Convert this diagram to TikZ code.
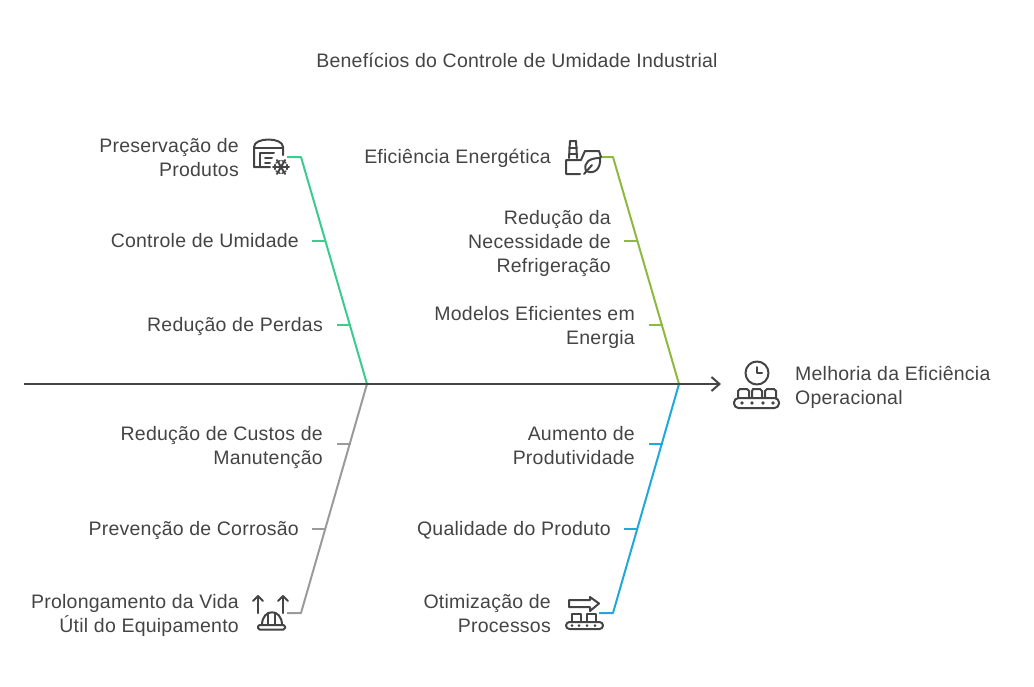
\documentclass[tikz,border=0pt]{standalone}
\usepackage{fontspec}
\setmainfont{Liberation Sans}[LetterSpace=1.2]
\usepackage{tikz}
\usetikzlibrary{arrows.meta}
\definecolor{ink}{RGB}{68,68,68}
\definecolor{mint}{RGB}{60,203,143}
\definecolor{olive}{RGB}{141,185,63}
\definecolor{skyblue}{RGB}{31,168,220}
\definecolor{ash}{RGB}{154,154,154}
\tikzset{%
    label/.style={%
        text=ink,
        inner sep=0pt,
        align=right,
        anchor=east,
        yshift=-2pt,
        font=\fontsize{19.5}{24}\selectfont,
        execute at begin node=\strut,
        execute at end node=\strut
    },
    icon/.style={draw=ink, line width=2pt, line join=round, line cap=round},
    bone/.style={line width=2pt, line join=round}
}

\begin{document}
\begin{tikzpicture}[x=1pt,y=-1pt]
    \useasboundingbox (0,0) rectangle (1034,686);
    % spine and joints
    \coordinate (tail) at (24,384);
    \coordinate (head) at (721,384);
    \coordinate (jointL) at (367,384);
    \coordinate (jointR) at (679,384);
    \coordinate (topL) at (301,157);
    \coordinate (topR) at (613,157);
    \coordinate (botL) at (301,613);
    \coordinate (botR) at (613,613);
    % branches
    \draw[bone,color=mint] (287,157) coordinate (a) -- (topL) -- (jointL);
    \draw[bone,color=olive] (599,157) coordinate (b) -- (topR) -- (jointR);
    \draw[bone,color=ash] (287,613) coordinate (c) -- (botL) -- (jointL);
    \draw[bone,color=skyblue] (599,613) coordinate (d) -- (botR) -- (jointR);
    \draw[line width=2pt,color=ink,-{Straight Barb[length=8pt,width=14pt,line width=2pt]}] (tail) -- (head);
    % ticks
    \foreach \xa/\ya/\col in {312/241/mint,337/325/mint,337/444/ash,312/529/ash,
        624/241/olive,649/325/olive,649/444/skyblue,624/529/skyblue}{
        \coordinate (s) at (\xa,\ya);
        \coordinate (e) at (\xa+14,\ya);
        \draw[bone,color=\col] (s) -- (e);
    }
    % labels
    \node[label,anchor=center] (title) at (517,61) {Benefícios do Controle de Umidade Industrial};
    \node[label] (preserva) at (239,159) {Preservação de\\Produtos};
    \node[label] (controle) at (299,241) {Controle de Umidade};
    \node[label] (perdas) at (323,325) {Redução de Perdas};
    \node[label] (custos) at (323,447) {Redução de Custos de\\Manutenção};
    \node[label] (corrosao) at (299,529) {Prevenção de Corrosão};
    \node[label] (vida) at (239,615) {Prolongamento da Vida\\Útil do Equipamento};
    \node[label] (energia) at (551,157) {Eficiência Energética};
    \node[label] (refrig) at (611,243) {Redução da\\Necessidade de\\Refrigeração};
    \node[label] (modelos) at (635,327) {Modelos Eficientes em\\Energia};
    \node[label] (aumento) at (635,447) {Aumento de\\Produtividade};
    \node[label] (qualidade) at (611,529) {Qualidade do Produto};
    \node[label] (otimiza) at (551,615) {Otimização de\\Processos};
    \node[label,anchor=west,align=left] (melhoria) at (795,387) {Melhoria da Eficiência\\Operacional};
    % icon: cold storage
    \draw[icon] (283,155) -- (283,147) .. controls (283,137) and (254,137) .. (254,147) -- (254,167) -- (270,167);
    \draw[icon] (254,148) -- (283,148);
    \draw[icon] (260,167) -- (260,153) -- (274,153);
    \draw[icon] (265,158) -- (272,158);
    \draw[icon] (265,163) -- (270,163);
    \foreach \ang in {0,60,120}{
        \draw[icon] (281,167) ++(\ang:8) -- ++(\ang+180:16);
        \draw[icon,line width=1.3pt] (281,167) ++(\ang:6) ++(\ang+90:2.4) -- ++(\ang-90:4.8);
        \draw[icon,line width=1.3pt] (281,167) ++(\ang+180:6) ++(\ang+90:2.4) -- ++(\ang-90:4.8);
    }
    % icon: factory and leaf
    \draw[icon] (569,158) -- (570,141) -- (576,141) -- (577,158);
    \draw[icon] (569,148) -- (577,148);
    \draw[icon] (569,154) -- (577,154);
    \draw[icon] (580,174) -- (566,174) -- (566,160) -- (581,160) -- (585,151) -- (599,151) -- (601,157);
    \draw[icon] (584,174) -- (592,165);
    \draw[icon] (586,171) .. controls (583,162) and (590,158) .. (600,158) .. controls (601,168) and (595,175) .. (586,171);
    % icon: clock over belt
    \draw[icon] (757,373) circle (11.5);
    \draw[icon] (757,367) -- (757,373) -- (762,373);
    \draw[icon] (738,398) -- (738,391) -- (740,389) -- (747,389) -- (749,391) -- (749,398);
    \draw[icon] (752,398) -- (752,391) -- (753,389) -- (760,389) -- (762,391) -- (762,398);
    \draw[icon] (765,398) -- (765,391) -- (767,389) -- (774,389) -- (776,391) -- (776,398);
    \draw[icon,rounded corners=4.5pt] (734,398) rectangle (779,408);
    \foreach \xa in {742,752,763,773}{\fill[ink] (\xa,403) circle (1.8);}
    % icon: helmet and arrows
    \foreach \xa in {258,283}{
        \draw[icon] (\xa,613) -- (\xa,596);
        \draw[icon] (\xa-5,601) -- (\xa,596) -- (\xa+5,601);
    }
    \draw[icon] (262,625) .. controls (262,608) and (282,608) .. (282,625);
    \draw[icon] (268,625) -- (268,613);
    \draw[icon] (275,625) -- (275,613);
    \draw[icon,rounded corners=1.5pt] (258,625) rectangle (285,629.5);
    % icon: arrow over belt
    \draw[icon] (569,600) -- (590,600) -- (590,597) -- (599,603.5) -- (590,611) -- (590,607) -- (569,607) -- cycle;
    \draw[icon] (572,622) -- (572,614) -- (581,614) -- (581,622);
    \draw[icon] (587,622) -- (587,614) -- (596,614) -- (596,622);
    \draw[icon,rounded corners=3.5pt] (566,622) rectangle (603,629);
    \foreach \xa in {572,579,587,595}{\fill[ink] (\xa,625.5) circle (1.5);}
\end{tikzpicture}
\end{document}
